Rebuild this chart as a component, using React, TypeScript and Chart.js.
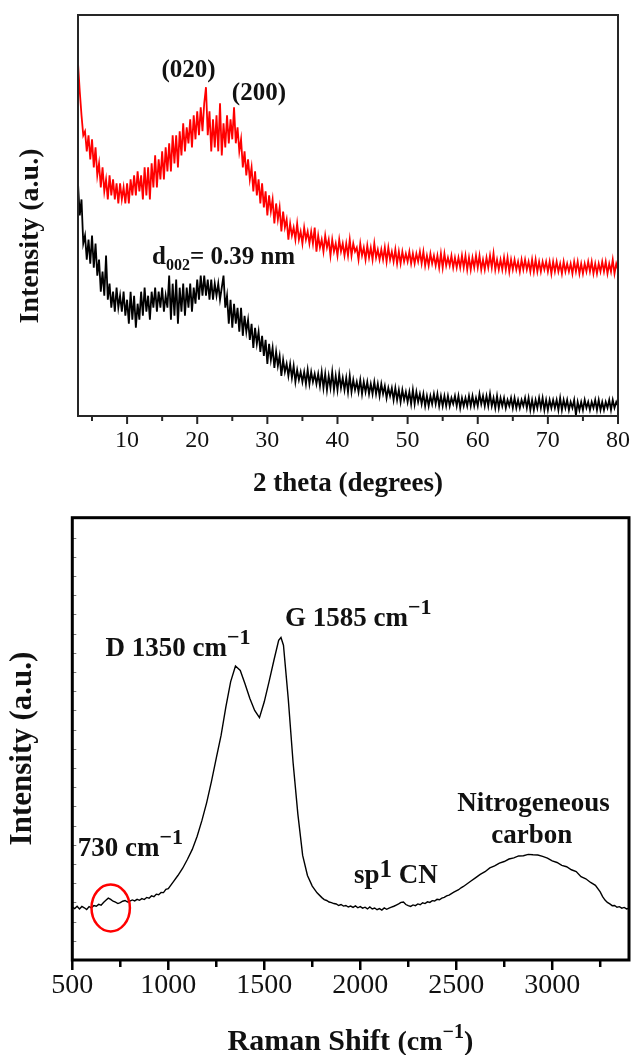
import React, { useEffect, useRef } from "react";
import { Chart, registerables } from "chart.js";

Chart.register(...registerables);

const SERIF = "'Liberation Serif', 'Times New Roman', Times, serif";

// ---------- XRD (top panel) ----------
const XRD_2THETA = [
  3, 3.25, 3.5, 3.75, 4, 4.25, 4.5, 4.75, 5, 5.25, 5.5, 5.75, 6, 6.25, 6.5, 6.75,
  7, 7.25, 7.5, 7.75, 8, 8.25, 8.5, 8.75, 9, 9.25, 9.5, 9.75, 10, 10.25, 10.5, 10.75,
  11, 11.25, 11.5, 11.75, 12, 12.25, 12.5, 12.75, 13, 13.25, 13.5, 13.75, 14, 14.25, 14.5, 14.75,
  15, 15.25, 15.5, 15.75, 16, 16.25, 16.5, 16.75, 17, 17.25, 17.5, 17.75, 18, 18.25, 18.5, 18.75,
  19, 19.25, 19.5, 19.75, 20, 20.25, 20.5, 20.75, 21, 21.25, 21.5, 21.75, 22, 22.25, 22.5, 22.75,
  23, 23.25, 23.5, 23.75, 24, 24.25, 24.5, 24.75, 25, 25.25, 25.5, 25.75, 26, 26.25, 26.5, 26.75,
  27, 27.25, 27.5, 27.75, 28, 28.25, 28.5, 28.75, 29, 29.25, 29.5, 29.75, 30, 30.25, 30.5, 30.75,
  31, 31.25, 31.5, 31.75, 32, 32.25, 32.5, 32.75, 33, 33.25, 33.5, 33.75, 34, 34.25, 34.5, 34.75,
  35, 35.25, 35.5, 35.75, 36, 36.25, 36.5, 36.75, 37, 37.25, 37.5, 37.75, 38, 38.25, 38.5, 38.75,
  39, 39.25, 39.5, 39.75, 40, 40.25, 40.5, 40.75, 41, 41.25, 41.5, 41.75, 42, 42.25, 42.5, 42.75,
  43, 43.25, 43.5, 43.75, 44, 44.25, 44.5, 44.75, 45, 45.25, 45.5, 45.75, 46, 46.25, 46.5, 46.75,
  47, 47.25, 47.5, 47.75, 48, 48.25, 48.5, 48.75, 49, 49.25, 49.5, 49.75, 50, 50.25, 50.5, 50.75,
  51, 51.25, 51.5, 51.75, 52, 52.25, 52.5, 52.75, 53, 53.25, 53.5, 53.75, 54, 54.25, 54.5, 54.75,
  55, 55.25, 55.5, 55.75, 56, 56.25, 56.5, 56.75, 57, 57.25, 57.5, 57.75, 58, 58.25, 58.5, 58.75,
  59, 59.25, 59.5, 59.75, 60, 60.25, 60.5, 60.75, 61, 61.25, 61.5, 61.75, 62, 62.25, 62.5, 62.75,
  63, 63.25, 63.5, 63.75, 64, 64.25, 64.5, 64.75, 65, 65.25, 65.5, 65.75, 66, 66.25, 66.5, 66.75,
  67, 67.25, 67.5, 67.75, 68, 68.25, 68.5, 68.75, 69, 69.25, 69.5, 69.75, 70, 70.25, 70.5, 70.75,
  71, 71.25, 71.5, 71.75, 72, 72.25, 72.5, 72.75, 73, 73.25, 73.5, 73.75, 74, 74.25, 74.5, 74.75,
  75, 75.25, 75.5, 75.75, 76, 76.25, 76.5, 76.75, 77, 77.25, 77.5, 77.75, 78, 78.25, 78.5, 78.75,
  79, 79.25, 79.5, 79.75, 80,
];

const XRD_RED = [
  88, 81, 75, 70, 71, 66, 70, 64, 69, 62, 67, 60, 63, 57, 62, 56,
  59, 54, 60, 55, 59, 54, 58, 53, 58, 54, 57, 53, 58, 53, 59, 55,
  60, 55, 61, 56, 60, 54, 62, 55, 62, 54, 63, 57, 65, 57, 64, 59,
  66, 59, 67, 61, 68, 61, 70, 63, 70, 62, 71, 65, 73, 66, 72, 68,
  74, 67, 75, 69, 76, 70, 77, 71, 78, 82, 70, 76, 66, 74, 67, 75,
  66, 78, 65, 73, 67, 75, 68, 74, 69, 77, 68, 72, 66, 69, 62, 66,
  60, 64, 59, 62, 56, 61, 55, 59, 53, 58, 52, 56, 50, 55, 51, 54,
  48, 53, 49, 52, 46, 51, 47, 49, 44, 48, 45, 47, 44, 48, 44, 46,
  43, 47, 44, 46, 43, 46, 43, 47, 41, 45, 42, 44, 41, 45, 42, 44,
  40, 44, 41, 43, 40, 44, 41, 43, 40, 43, 40, 44, 40, 43, 41, 42,
  39, 43, 40, 42, 39, 42.5, 39.5, 42, 39, 43, 39.5, 41.5, 39, 41.5, 39, 42,
  38.5, 42, 39, 41, 38.5, 41.5, 38, 41, 38, 41, 38.5, 40.5, 38.5, 41, 38, 40.5,
  38, 40.5, 38.5, 41, 38, 41, 37.5, 40, 37.5, 40.5, 38, 40, 37.5, 40, 37, 40.5,
  37, 40.5, 37.5, 39.5, 37.5, 40, 37, 39.5, 37, 39.5, 37, 40, 37, 40, 36.5, 39.5,
  36.5, 39.5, 37, 40, 37, 40, 36.5, 39, 36.5, 39.5, 37, 40, 37, 40.5, 36.5, 39,
  36.5, 39, 36.5, 39.5, 36.5, 39.5, 36, 39, 36.5, 39, 36.5, 38.5, 36, 39, 36.5, 39,
  36.5, 38.5, 36, 39, 36, 39, 36, 38.5, 36, 38.5, 36.5, 38.5, 36, 38.5, 35.5, 38.5,
  36, 38.5, 36, 38, 35.5, 38.5, 36, 38, 36, 38, 35.5, 38.5, 36, 38.5, 35.5, 38,
  35.5, 38, 36, 38.5, 36, 38.5, 35.5, 38, 35.5, 38, 36, 38.5, 36, 38.5, 35.5, 38,
  36, 39, 35.5, 38, 36.5,
];

const XRD_BLACK = [
  58, 50, 54, 43, 45, 39, 44, 38, 45, 37, 43, 35, 39, 31, 36, 30,
  40, 29, 33, 27, 31, 26, 32, 27, 30, 26, 31, 25, 29, 23, 31, 24,
  30, 22, 28, 24, 31, 25, 32, 26, 30, 24, 31, 27, 32, 26, 31, 27,
  32, 26, 30, 27, 35, 24, 33, 25, 34, 23, 32, 26, 33, 25, 32, 27,
  33, 26, 32, 28, 34, 29, 35, 30, 35, 30, 34, 29, 34, 29, 33, 30,
  33, 29, 32, 35, 27, 30, 23, 29, 22, 28, 23, 27, 21, 27, 20, 25,
  21, 24, 19, 23, 17, 22, 18, 21, 16, 20, 15, 19, 13, 18, 14, 17,
  12, 16, 12.5, 15, 10, 14, 11, 13, 10, 13, 9.5, 12.5, 8.5, 11.5, 9, 11,
  8.5, 11, 8, 11.5, 8, 11, 8.5, 10.5, 8, 10.5, 7.5, 11, 7, 10.5, 6.5, 10,
  7, 11, 6.5, 10, 6.5, 10.5, 7, 9.5, 6.5, 9.5, 6, 10, 6, 9, 6.5, 8.5,
  6, 9, 5.5, 8.5, 6, 8.5, 5.5, 8, 5.5, 8.5, 5.5, 8, 5, 8, 5.5, 7.5,
  4.5, 7, 5, 7, 4, 7, 4, 6.5, 3.5, 6.5, 4, 6, 3.5, 6, 3, 6.5,
  3, 6, 3.5, 5.5, 3, 5.5, 2.5, 5, 2.5, 5, 3, 5.5, 3, 5.5, 2.5, 5,
  2.5, 5, 2.5, 5, 2.5, 4.5, 3, 5, 2.5, 5, 2, 4.5, 2.5, 4.5, 2.5, 5,
  2.5, 5, 2.5, 4.5, 2.5, 5.5, 3, 5, 2.5, 5, 2.5, 5.5, 2.5, 4.5, 2, 5,
  2, 4.5, 2.5, 4.5, 2, 4, 2.5, 4.5, 2, 4.5, 2, 4, 2, 4, 2.5, 4.5,
  2, 4.5, 1.5, 4, 1.5, 4, 2, 4.5, 2, 4.5, 1.5, 4, 1.5, 4, 2, 4,
  2, 4, 1.5, 4.5, 1.5, 4, 2, 4, 1.5, 3.5, 2, 4, 0.2, 3.5, 1.5, 3.5,
  1.5, 4, 2, 3.5, 1.5, 3.5, 2, 4, 1.5, 4, 1.5, 3.5, 1.5, 3.5, 2, 4,
  1.5, 4, 2, 3.5, 2.5,
];

const XRD_X_MAJOR = [10, 20, 30, 40, 50, 60, 70, 80];
const XRD_X_MINOR = [5, 15, 25, 35, 45, 55, 65, 75];

// ---------- Raman (bottom panel) ----------
const RAMAN_SHIFT = [
  500, 512.5, 525, 537.5, 550, 562.5, 575, 587.5, 600, 612.5,
  625, 637.5, 650, 662.5, 675, 687.5, 700, 712.5, 725, 737.5,
  750, 762.5, 775, 787.5, 800, 812.5, 825, 837.5, 850, 862.5,
  875, 887.5, 900, 912.5, 925, 937.5, 950, 962.5, 975, 987.5,
  1000, 1025, 1050, 1075, 1100, 1125, 1150, 1175, 1200, 1225,
  1250, 1275, 1300, 1325, 1350, 1375, 1400, 1425, 1450, 1475,
  1500, 1525, 1550, 1575, 1587, 1600, 1625, 1650, 1675, 1700,
  1725, 1750, 1775,
  1800, 1812.5, 1825, 1837.5, 1850, 1862.5, 1875, 1887.5, 1900, 1912.5,
  1925, 1937.5, 1950, 1962.5, 1975, 1987.5, 2000, 2012.5, 2025, 2037.5,
  2050, 2062.5, 2075, 2087.5, 2100, 2112.5, 2125, 2137.5, 2150, 2162.5,
  2175, 2187.5, 2200, 2212.5, 2225, 2237.5, 2250, 2262.5, 2275, 2287.5,
  2300, 2312.5, 2325, 2337.5, 2350, 2362.5, 2375, 2387.5, 2400, 2412.5,
  2425, 2437.5, 2450, 2462.5, 2475, 2487.5, 2500, 2512.5, 2525, 2537.5,
  2550,
  2575, 2600, 2625, 2650, 2675, 2700, 2725, 2750, 2775, 2800,
  2825, 2850, 2875, 2900, 2925, 2950, 2975, 3000, 3025, 3050,
  3075, 3100, 3125, 3150, 3175, 3200, 3225,
  3250, 3262.5, 3275, 3287.5, 3300, 3312.5, 3325, 3337.5, 3350, 3362.5,
  3375, 3387.5, 3400,
];

const RAMAN_INTENSITY = [
  276, 268, 280, 266, 279, 272, 263, 278, 272, 284,
  280, 290, 286, 300, 311, 322, 316, 306, 301, 294,
  299, 306, 310, 302, 307, 313, 308, 316, 311, 320,
  315, 326, 322, 334, 330, 343, 340, 352, 351, 368,
  372, 406, 440, 478, 525, 576, 643, 726, 820, 930,
  1052, 1170, 1318, 1450, 1531, 1508, 1438, 1362, 1300, 1262,
  1345, 1450, 1560, 1665, 1680, 1640, 1360, 1030, 760, 545,
  440, 385, 350,
  325, 315, 310, 302, 299, 294, 292, 284, 289, 281,
  284, 276, 281, 274, 282, 272, 278, 270, 275, 266,
  276, 266, 271, 262, 268, 260, 271, 264, 270, 275,
  280, 286, 292, 300, 302, 289, 283, 279, 287, 283,
  292, 288, 298, 294, 303, 300, 309, 307, 316, 314,
  322, 326, 334, 338, 346, 353, 360, 366, 376, 383,
  392,
  410, 428, 446, 460, 480, 490, 505, 513, 526, 532,
  542, 543, 550, 548, 547, 540, 531, 516, 508, 493,
  486, 470, 461, 434, 423, 404, 389,
  355, 330, 312, 300, 292, 283, 284, 275, 278, 270,
  274, 266, 270,
];

const RAMAN_X_MAJOR = [500, 1000, 1500, 2000, 2500, 3000];
const RAMAN_X_MINOR = [750, 1250, 1750, 2250, 2750, 3250];
const RAMAN_Y_MINOR = [
  100, 200, 300, 400, 500, 600, 700, 800, 900, 1000, 1100, 1200,
  1300, 1400, 1500, 1600, 1700, 1800, 1900, 2000, 2100, 2200, 2300,
];

type Part = { t: string; size: number; dy?: number };

function drawParts(ctx: CanvasRenderingContext2D, x: number, y: number, parts: Part[]) {
  let cx = x;
  ctx.textAlign = "left";
  ctx.textBaseline = "alphabetic";
  for (const p of parts) {
    ctx.font = `bold ${p.size}px ${SERIF}`;
    ctx.fillText(p.t, cx, y + (p.dy ?? 0));
    cx += ctx.measureText(p.t).width;
  }
}

function line(ctx: CanvasRenderingContext2D, x1: number, y1: number, x2: number, y2: number) {
  ctx.beginPath();
  ctx.moveTo(x1, y1);
  ctx.lineTo(x2, y2);
  ctx.stroke();
}

const xrdDecor = {
  id: "xrdDecor",
  afterDraw(chart: any) {
    const { ctx, chartArea: a, scales } = chart;
    const xs = scales.x;
    const ys = scales.y;
    ctx.save();
    ctx.strokeStyle = "#262626";
    ctx.lineWidth = 2;
    ctx.strokeRect(a.left, a.top, a.right - a.left, a.bottom - a.top);
    XRD_X_MAJOR.forEach((v) => {
      const px = xs.getPixelForValue(v);
      line(ctx, px, a.bottom, px, a.bottom + 8);
    });
    XRD_X_MINOR.forEach((v) => {
      const px = xs.getPixelForValue(v);
      line(ctx, px, a.bottom, px, a.bottom + 5);
    });

    ctx.fillStyle = "#111";
    ctx.save();
    ctx.translate(38, 236);
    ctx.rotate(-Math.PI / 2);
    ctx.font = `bold 28px ${SERIF}`;
    ctx.textAlign = "center";
    ctx.textBaseline = "alphabetic";
    ctx.fillText("Intensity (a.u.)", 0, 0);
    ctx.restore();

    ctx.font = `bold 25px ${SERIF}`;
    ctx.textAlign = "center";
    ctx.textBaseline = "alphabetic";
    ctx.fillText("(020)", xs.getPixelForValue(18.76), ys.getPixelForValue(84.5));
    ctx.fillText("(200)", xs.getPixelForValue(28.8), ys.getPixelForValue(78.8));

    drawParts(ctx, xs.getPixelForValue(13.55), ys.getPixelForValue(38.0), [
      { t: "d", size: 25 },
      { t: "002", size: 16, dy: 6 },
      { t: "= 0.39 nm", size: 25 },
    ]);
    ctx.restore();
  },
};

const ramanDecor = {
  id: "ramanDecor",
  afterDraw(chart: any) {
    const { ctx, chartArea: a, scales } = chart;
    const xs = scales.x;
    const ys = scales.y;
    ctx.save();
    ctx.strokeStyle = "#777";
    ctx.lineWidth = 1;
    RAMAN_Y_MINOR.forEach((v) => {
      const py = Math.round(ys.getPixelForValue(v)) + 0.5;
      line(ctx, a.left, py, a.left + 4, py);
    });
    ctx.strokeStyle = "#000";
    ctx.lineWidth = 3;
    ctx.strokeRect(a.left, a.top, a.right - a.left, a.bottom - a.top);
    ctx.lineWidth = 2.5;
    RAMAN_X_MAJOR.forEach((v) => {
      const px = xs.getPixelForValue(v);
      line(ctx, px, a.bottom, px, a.bottom + 10);
    });
    RAMAN_X_MINOR.forEach((v) => {
      const px = xs.getPixelForValue(v);
      line(ctx, px, a.bottom, px, a.bottom + 7);
    });

    // red circle around the 730 cm-1 feature
    const cx = xs.getPixelForValue(700);
    const cy = ys.getPixelForValue(271);
    const rx = xs.getPixelForValue(800) - cx;
    const ry = cy - ys.getPixelForValue(393);
    ctx.strokeStyle = "#ff0000";
    ctx.lineWidth = 2.5;
    ctx.beginPath();
    ctx.ellipse(cx, cy, rx, ry, 0, 0, Math.PI * 2);
    ctx.stroke();

    ctx.fillStyle = "#111";
    ctx.save();
    ctx.translate(31, 243.5);
    ctx.rotate(-Math.PI / 2);
    ctx.font = `bold 31px ${SERIF}`;
    ctx.textAlign = "center";
    ctx.textBaseline = "alphabetic";
    ctx.fillText("Intensity (a.u.)", 0, 0);
    ctx.restore();

    drawParts(ctx, 227.5, 545, [
      { t: "Raman Shift ", size: 30 },
      { t: "(cm", size: 28 },
      { t: "\u22121", size: 20, dy: -12 },
      { t: ")", size: 28 },
    ]);

    drawParts(ctx, xs.getPixelForValue(673), ys.getPixelForValue(1586), [
      { t: "D 1350 cm", size: 27 },
      { t: "\u22121", size: 22, dy: -12 },
    ]);
    drawParts(ctx, xs.getPixelForValue(1608), ys.getPixelForValue(1742), [
      { t: "G 1585 cm", size: 27 },
      { t: "\u22121", size: 22, dy: -12 },
    ]);
    drawParts(ctx, xs.getPixelForValue(528), ys.getPixelForValue(544), [
      { t: "730 cm", size: 27 },
      { t: "\u22121", size: 22, dy: -12 },
    ]);
    drawParts(ctx, xs.getPixelForValue(1967), ys.getPixelForValue(401), [
      { t: "sp", size: 27 },
      { t: "1", size: 25, dy: -6 },
      { t: " CN", size: 27 },
    ]);
    ctx.font = `bold 27px ${SERIF}`;
    ctx.textAlign = "center";
    ctx.textBaseline = "alphabetic";
    ctx.fillText("Nitrogeneous", xs.getPixelForValue(2902), ys.getPixelForValue(776));
    ctx.fillText("carbon", xs.getPixelForValue(2894), ys.getPixelForValue(609));
    ctx.restore();
  },
};

function xrdConfig(): any {
  return {
    type: "line",
    data: {
      datasets: [
        {
          label: "black",
          data: XRD_2THETA.map((x, i) => ({ x, y: XRD_BLACK[i] })),
          borderColor: "#000000",
          borderWidth: 1.8,
          pointRadius: 0,
          tension: 0,
        },
        {
          label: "red",
          data: XRD_2THETA.map((x, i) => ({ x, y: XRD_RED[i] })),
          borderColor: "#ff0000",
          borderWidth: 1.8,
          pointRadius: 0,
          tension: 0,
        },
      ],
    },
    options: {
      responsive: false,
      animation: false,
      devicePixelRatio: 1,
      layout: { padding: { left: 0, top: 15, right: 13, bottom: 0 } },
      plugins: { legend: { display: false }, tooltip: { enabled: false } },
      scales: {
        x: {
          type: "linear",
          min: 3,
          max: 80,
          afterBuildTicks: (s: any) => {
            s.ticks = XRD_X_MAJOR.map((v) => ({ value: v }));
          },
          afterFit: (s: any) => {
            s.height = 94;
            s.paddingLeft = 0;
            s.paddingRight = 0;
          },
          grid: { display: false, drawTicks: false },
          border: { display: false },
          ticks: {
            autoSkip: false,
            maxRotation: 0,
            padding: 10,
            color: "#111",
            font: { family: SERIF, size: 24 },
            callback: (v: any) => String(v),
          },
          title: {
            display: true,
            text: "2 theta (degrees)",
            color: "#111",
            font: { family: SERIF, size: 27, weight: "bold" },
            padding: { top: 0, bottom: 10 },
          },
        },
        y: {
          type: "linear",
          min: 0,
          max: 100,
          afterFit: (s: any) => {
            s.width = 78;
          },
          grid: { display: false, drawTicks: false },
          border: { display: false },
          ticks: { display: false },
        },
      },
    },
    plugins: [xrdDecor],
  };
}

function ramanConfig(): any {
  return {
    type: "line",
    data: {
      datasets: [
        {
          label: "Raman",
          data: RAMAN_SHIFT.map((x, i) => ({ x, y: RAMAN_INTENSITY[i] })),
          borderColor: "#000000",
          borderWidth: 1.4,
          pointRadius: 0,
          tension: 0,
        },
      ],
    },
    options: {
      responsive: false,
      animation: false,
      devicePixelRatio: 1,
      layout: { padding: { left: 0, top: 12.7, right: 2, bottom: 0 } },
      plugins: { legend: { display: false }, tooltip: { enabled: false } },
      scales: {
        x: {
          type: "linear",
          min: 500,
          max: 3400,
          afterBuildTicks: (s: any) => {
            s.ticks = RAMAN_X_MAJOR.map((v) => ({ value: v }));
          },
          afterFit: (s: any) => {
            s.height = 95;
            s.paddingLeft = 0;
            s.paddingRight = 0;
          },
          grid: { display: false, drawTicks: false },
          border: { display: false },
          ticks: {
            autoSkip: false,
            maxRotation: 0,
            padding: 9,
            color: "#111",
            font: { family: SERIF, size: 28 },
            callback: (v: any) => String(v),
          },
          title: { display: false },
        },
        y: {
          type: "linear",
          min: 0,
          max: 2304,
          afterFit: (s: any) => {
            s.width = 72.3;
          },
          grid: { display: false, drawTicks: false },
          border: { display: false },
          ticks: { display: false },
        },
      },
    },
    plugins: [ramanDecor],
  };
}

export default function App() {
  const xrdRef = useRef<HTMLCanvasElement>(null);
  const ramanRef = useRef<HTMLCanvasElement>(null);

  useEffect(() => {
    const c1 = new Chart(xrdRef.current as HTMLCanvasElement, xrdConfig());
    const c2 = new Chart(ramanRef.current as HTMLCanvasElement, ramanConfig());
    return () => {
      c1.destroy();
      c2.destroy();
    };
  }, []);

  return (
    <div
      style={{
        position: "absolute",
        left: 0,
        top: 0,
        width: 631,
        height: 1055,
        background: "#ffffff",
        overflow: "hidden",
      }}
    >
      <canvas
        ref={xrdRef}
        width={631}
        height={510}
        style={{ position: "absolute", left: 0, top: 0, width: 631, height: 510 }}
      />
      <canvas
        ref={ramanRef}
        width={631}
        height={550}
        style={{ position: "absolute", left: 0, top: 505, width: 631, height: 550 }}
      />
    </div>
  );
}
